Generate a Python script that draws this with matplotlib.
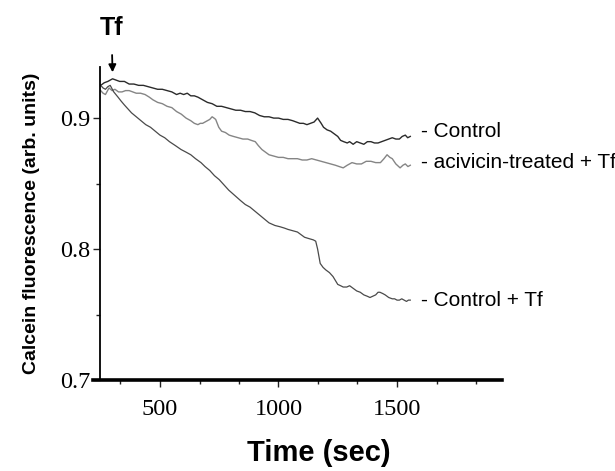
import numpy as np
import matplotlib
matplotlib.use("Agg")
import matplotlib.pyplot as plt
from matplotlib.ticker import MultipleLocator, FixedLocator

# Calcein fluorescence traces (time in sec)
t_control = [250, 265, 280, 300, 315, 330, 350, 370, 390, 410, 430, 450, 470, 490, 510, 530,
             550, 570, 585, 600, 615, 630, 645, 660, 680, 700, 720, 740, 760, 780, 800, 820,
             840, 860, 880, 900, 920, 940, 960, 980, 1000, 1020, 1040, 1060, 1075, 1090,
             1105, 1120, 1135, 1150, 1165, 1180, 1190, 1205, 1220, 1235, 1250, 1262, 1275,
             1290, 1300, 1315, 1330, 1345, 1360, 1375, 1390, 1405, 1420, 1435, 1450, 1465,
             1480, 1495, 1510, 1522, 1535, 1545, 1556]
control = [0.925, 0.927, 0.928, 0.930, 0.929, 0.928, 0.928, 0.926, 0.926, 0.925, 0.925,
           0.924, 0.923, 0.922, 0.922, 0.921, 0.920, 0.918, 0.919, 0.918, 0.919, 0.917,
           0.917, 0.916, 0.914, 0.912, 0.911, 0.909, 0.909, 0.908, 0.907, 0.906, 0.906,
           0.905, 0.905, 0.904, 0.902, 0.901, 0.901, 0.900, 0.900, 0.899, 0.899, 0.898,
           0.897, 0.896, 0.896, 0.895, 0.896, 0.897, 0.900, 0.896, 0.893, 0.891, 0.890,
           0.888, 0.886, 0.883, 0.882, 0.881, 0.882, 0.880, 0.882, 0.881, 0.880, 0.882,
           0.882, 0.881, 0.881, 0.882, 0.883, 0.884, 0.885, 0.884, 0.884, 0.886, 0.887,
           0.885, 0.886]

t_acivicin = [250, 260, 270, 285, 298, 310, 325, 340, 355, 370, 385, 400, 418, 437, 455,
              470, 490, 510, 530, 550, 570, 590, 610, 630, 645, 660, 670, 680, 690, 700, 710,
              720, 728, 735, 748, 760, 776, 792, 810, 830, 850, 870, 885, 902, 915, 930, 945,
              960, 980, 1000, 1020, 1040, 1060, 1080, 1100, 1120, 1140, 1160, 1180, 1200,
              1220, 1240, 1256, 1273, 1290, 1310, 1330, 1350, 1370, 1390, 1410, 1430, 1445,
              1458, 1470, 1480, 1495, 1513, 1525, 1535, 1546, 1556]
acivicin = [0.921, 0.919, 0.918, 0.923, 0.921, 0.922, 0.920, 0.920, 0.921, 0.921, 0.920,
            0.919, 0.919, 0.918, 0.916, 0.914, 0.912, 0.911, 0.909, 0.908, 0.905, 0.903,
            0.900, 0.898, 0.896, 0.895, 0.896, 0.896, 0.897, 0.898, 0.899, 0.901, 0.900,
            0.899, 0.893, 0.890, 0.889, 0.887, 0.886, 0.885, 0.884, 0.884, 0.883, 0.882,
            0.879, 0.876, 0.874, 0.872, 0.871, 0.870, 0.870, 0.869, 0.869, 0.869, 0.868,
            0.868, 0.869, 0.868, 0.867, 0.866, 0.865, 0.864, 0.863, 0.862, 0.864, 0.866,
            0.865, 0.865, 0.867, 0.867, 0.866, 0.866, 0.869, 0.872, 0.870, 0.869, 0.865,
            0.862, 0.864, 0.865, 0.863, 0.864]

t_control_tf = [250, 260, 270, 280, 290, 305, 323, 336, 350, 365, 380, 400, 420, 440, 460,
                480, 500, 520, 540, 565, 589, 610, 630, 650, 673, 690, 710, 730, 750, 770,
                790, 815, 840, 860, 880, 900, 920, 940, 960, 985, 1007, 1025, 1040, 1060,
                1080, 1095, 1110, 1128, 1147, 1157, 1165, 1172, 1176, 1188, 1200, 1215, 1230,
                1240, 1250, 1262, 1273, 1288, 1300, 1315, 1330, 1345, 1360, 1374, 1386,
                1398, 1410, 1420, 1428, 1440, 1450, 1465, 1480, 1490, 1500, 1510, 1520,
                1530, 1540, 1548, 1556]
control_tf = [0.925, 0.923, 0.922, 0.924, 0.925, 0.920, 0.916, 0.913, 0.910, 0.907, 0.904,
              0.901, 0.898, 0.895, 0.893, 0.890, 0.887, 0.885, 0.882, 0.879, 0.876, 0.874,
              0.872, 0.869, 0.866, 0.863, 0.860, 0.856, 0.853, 0.849, 0.845, 0.841, 0.837,
              0.834, 0.832, 0.829, 0.826, 0.823, 0.820, 0.818, 0.817, 0.816, 0.815, 0.814,
              0.813, 0.811, 0.809, 0.808, 0.807, 0.806, 0.800, 0.793, 0.789, 0.786, 0.784,
              0.782, 0.779, 0.776, 0.773, 0.772, 0.771, 0.771, 0.772, 0.770, 0.768, 0.767,
              0.765, 0.764, 0.763, 0.764, 0.765, 0.767, 0.767, 0.766, 0.765, 0.763, 0.762,
              0.762, 0.761, 0.761, 0.762, 0.761, 0.760, 0.761, 0.761]

labels = ["- Control", "- acivicin-treated + Tf", "- Control + Tf"]
label_y = [0.890, 0.866, 0.761]
tf_time = 300

fig = plt.figure(figsize=(6.15, 4.71), dpi=100)
ax = fig.add_axes([0.1626, 0.1932, 0.6537, 0.6645])

ax.plot(t_control, control, color="#2b2b2b", lw=1.0)
ax.plot(t_acivicin, acivicin, color="#858585", lw=1.0)
ax.plot(t_control_tf, control_tf, color="#4a4a4a", lw=0.9)

ax.set_xlim(247, 1943)
ax.set_ylim(0.7, 0.939)

for s in ["top", "right"]:
    ax.spines[s].set_visible(False)
ax.spines["left"].set_linewidth(1.3)
ax.spines["bottom"].set_linewidth(2.6)
ax.spines["bottom"].set_bounds(218, 1943)

ax.xaxis.set_major_locator(FixedLocator([500, 1000, 1500]))
ax.xaxis.set_minor_locator(FixedLocator([333, 667, 833, 1167, 1333, 1667, 1833]))
ax.yaxis.set_major_locator(MultipleLocator(0.1))
ax.yaxis.set_minor_locator(FixedLocator([0.75, 0.85]))
ax.yaxis.set_major_formatter(plt.FuncFormatter(lambda v, p: f"{v:.1f}"))
ax.tick_params(which="both", direction="out", width=1.0, color="#222")
ax.tick_params(which="major", length=5)
ax.tick_params(which="minor", length=3)
serif = ["Liberation Serif", "DejaVu Serif"]
for lab in ax.get_xticklabels() + ax.get_yticklabels():
    lab.set_family(serif)
    lab.set_fontsize(17.5)
ax.tick_params(axis="x", pad=9)
ax.tick_params(axis="y", pad=2)

ax.set_xlabel("Time (sec)", family="Liberation Sans", fontsize=21, fontweight="bold")
ax.xaxis.set_label_coords(0.545, -0.19)
ax.set_ylabel("Calcein fluorescence (arb. units)", family="Liberation Sans", fontsize=14,
              fontweight="bold", labelpad=14)

for lab, yv in zip(labels, label_y):
    ax.text(1600, yv, lab, family=["Liberation Sans Narrow", "Liberation Sans"], fontsize=15,
            va="center", ha="left", clip_on=False)

ax.annotate("Tf", xy=(tf_time, 0.935), xytext=(tf_time - 5, 0.969), ha="center", va="center",
            family="Liberation Sans", fontsize=18, fontweight="bold", annotation_clip=False,
            arrowprops=dict(arrowstyle="-|>", color="black", lw=1.3, shrinkA=9, shrinkB=0,
                            mutation_scale=11))

fig.savefig("out.png", dpi=100)
